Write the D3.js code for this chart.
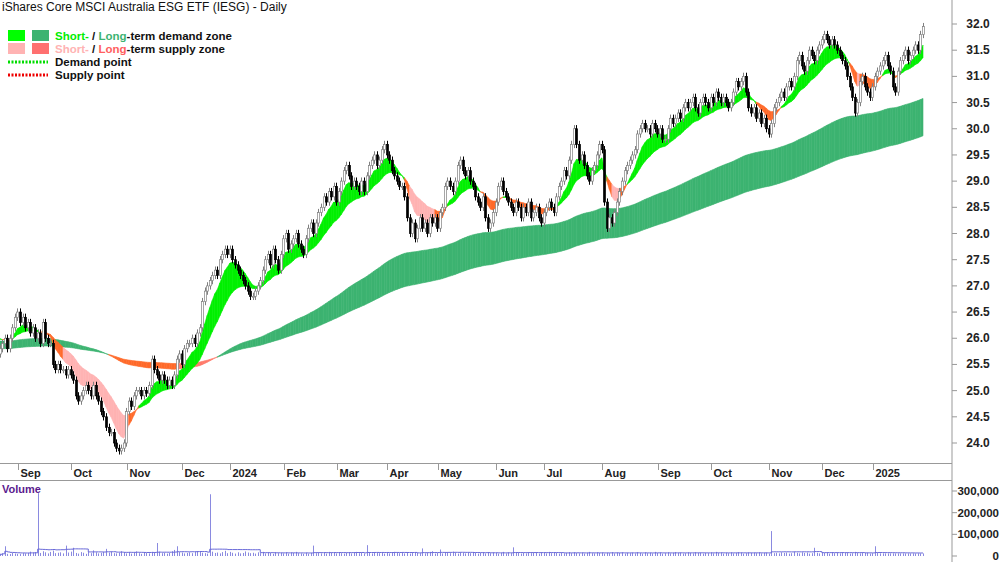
<!DOCTYPE html>
<html><head><meta charset="utf-8">
<script src="https://cdn.jsdelivr.net/npm/d3@7/dist/d3.min.js"></script>
<style>body{margin:0;background:#fff}svg{display:block;font-family:Arial,"Liberation Sans",sans-serif}</style>
</head><body><svg id="c" width="1000" height="562"></svg>
<script>
// ---- data ----
const startDate = "2023-08-22";
const holidays = ["2023-12-25","2023-12-26","2024-01-01","2024-01-26","2024-03-29","2024-04-01","2024-04-25","2024-06-10","2024-12-25","2024-12-26","2025-01-01"];
const closes = [
25.8,25.9,26.0,25.8,26.0, 26.2,26.4,26.5,26.3,26.4, 26.2,26.3,26.1,26.2,26.0, 26.1,25.9,26.3,26.0,25.9,
25.9,25.5,25.4,25.5,25.4, 25.4,25.3,25.4,25.3,25.2, 24.9,24.8,24.9,25.0,25.1, 25.0,24.9,25.1,24.9,24.8,
24.6,24.5,24.3,24.2,24.2, 24.0,23.9,23.85,23.9,24.0, 24.6,24.8,24.7,24.9,25.0, 25.0,24.9,25.0,24.95,25.1,
25.6,25.4,25.3,25.2,25.3, 25.2,25.1,25.2,25.1,25.3, 25.6,25.7,25.5,25.8,25.9, 25.9,26.0,25.9,26.1,26.2,
26.7,26.9,27.0,27.1,27.2, 27.3,27.2,27.5,27.6,27.7, 27.6,27.7,27.5,27.4,27.3, 27.2,27.1,27.0,26.9,26.8,
26.8,26.9,27.0,27.1,27.3,27.5, 27.6,27.4,27.7,27.5,27.3, 27.6,27.9,28.0,27.7,27.8, 27.9,28.0,27.8,27.7,27.6,
27.9,28.1,28.2,28.0,28.2, 28.4,28.5,28.7,28.6,28.8, 28.7,28.9,28.6,28.8,29.0, 29.2,29.3,29.1,28.9,29.0,
28.9,28.8,29.0,28.8,29.1, 29.3,29.4,29.5,29.3,29.4, 29.6,29.7,29.5,29.4,29.2, 29.1,29.0,28.9,28.9,28.7,
28.3,28.0,28.2,27.9,28.1, 28.3,28.1,28.2,28.0,28.3, 28.2,28.3,28.1,28.4,28.5, 28.9,29.0,28.9,28.8,29.0,
29.3,29.4,29.2,29.1,29.2,29.0, 28.9,28.7,28.6,28.5,28.7, 28.3,28.1,28.2,28.4,28.6, 28.9,29.0,28.8,28.7,28.6,
28.5,28.4,28.6,28.5,28.3, 28.5,28.4,28.6,28.3,28.4, 28.5,28.3,28.2,28.4,28.5, 28.6,28.5,28.4,28.7,28.9,
29.0,29.2,29.1,29.4,29.7, 30.0,29.7,29.4,29.5,29.3, 29.1,29.0,29.2,29.3,29.5, 29.7,29.6,28.6,28.1,28.3,
28.2,28.4,28.6,28.8,29.0, 29.2,29.3,29.4,29.5,29.6, 29.9,30.0,30.1,30.0,30.0,29.9, 30.1,30.0,29.9,30.0,29.8,
29.8,30.0,30.2,30.1,30.2, 30.3,30.2,30.4,30.5,30.4, 30.5,30.6,30.4,30.3,30.5, 30.6,30.5,30.4,30.6,30.5,
30.7,30.6,30.5,30.6,30.5, 30.4,30.5,30.7,30.9,30.8, 30.9,31.0,30.7,30.4,30.3, 30.4,30.2,30.3,30.1,30.2,
30.0,29.9,30.1,30.4,30.5,30.6, 30.7,30.6,30.8,30.9,30.8, 31.0,31.3,31.4,31.2,31.1, 31.3,31.5,31.4,31.3,31.5,
31.6,31.7,31.8,31.7,31.6, 31.7,31.6,31.5,31.4,31.3, 31.2,31.0,30.8,30.6,30.3, 30.5,30.9,31.0,30.8,30.7,
30.6,30.8,31.0,31.1,31.2,31.3, 31.4,31.2,31.1,30.8,30.7, 31.1,31.3,31.4,31.5,31.3, 31.4,31.5,31.6,31.5,31.8,
31.95];
const firstOpen = 25.7;
const volumesK = [
 8,12,45,10, 9, 14,11,10, 9,13, 12,14,20,16,18, 290,14,22,17,12, 19,25,13,15,17,
 12,48,16,20,38, 14,11,18,15,10, 21,13,26,17,12, 14,19,33,16,20, 13,12,15,22,17,
 12,18,11,16,21, 13,10,17,14,12, 19,15,60,20,13, 15,11,14,22,28, 45,18,16,12,14,
 17,13,19,22,22, 15,13,11,285,20, 14,16,12,18,24, 13,19,15,11,17, 12,14,21,16,13,
 15,11,17,13,19, 12,16,14,10,18, 13,15,12,17,11, 16,14,19,13,12, 10,15,11,14,48,
 13,17,12,15,11, 19,14,16,12,18, 13,11,15,17,12, 14,19,13,16,11, 50,15,12,18,14,
 13,17,11,16,12, 15,19,14,13,17, 12,16,11,15,18, 14,13,35,12,16, 19,22,11,14,30,
 12,16,18,13,20, 15,11,17,14,12, 16,13,19,15,11, 14,17,12,18,13, 16,15,11,14,19,
 12,17,13,40,14, 16,11,15,12,18, 13,17,14,11,16, 15,12,19,13,17, 14,11,16,12,15,
 18,13,17,14,12, 16,11,15,19,13, 12,17,14,16,11, 15,13,18,12,16, 14,17,11,15,13,
 16,12,18,14,11, 17,13,15,12,19, 14,16,11,13,17, 12,15,18,14,16, 11,13,17,15,12,
 18,14,16,11,15, 13,17,12,19,14, 16,11,15,13,17, 12,14,18,16,11, 13,17,14,15,13,
 17,12,14,16,11, 115,13,15,12,17, 14,16,11,13,19, 15,12,17,14,16, 11,13,38,15,12,
 17,14,16,11,18, 13,15,12,17,14, 16,11,13,19,15, 12,17,14,16,11, 13,45,16
];
const seed = {sf:26.05, ss:26.0, lf:25.95, ls:25.8};
const periods = {sf:8, ss:21, lf:125, ls:220};
const priceTicks = [24.0,24.5,25.0,25.5,26.0,26.5,27.0,27.5,28.0,28.5,29.0,29.5,30.0,30.5,31.0,31.5,32.0];
const volTicks = [0,100000,200000,300000];
const monthNames = ["Jan","Feb","Mar","Apr","May","Jun","Jul","Aug","Sep","Oct","Nov","Dec"];

// ---- derived ----
const dates=[]; {let d=new Date(startDate+"T00:00:00Z"); const hs=new Set(holidays);
 while(dates.length<closes.length){const wd=d.getUTCDay(); const s=d.toISOString().slice(0,10);
  if(wd!==0&&wd!==6&&!hs.has(s)) dates.push(new Date(d)); d=new Date(d.getTime()+86400000);} }
const bars = closes.map((c,i)=>{const o=i?closes[i-1]:firstOpen; return {i,o,c,h:Math.max(o,c)+0.07,l:Math.min(o,c)-0.07,v:(volumesK[i]||12)*1000};});
function ema(p,s){let e=s; return closes.map(c=>(e=e+(c-e)*2/(p+1)));}
const SF=ema(periods.sf,seed.sf), SS=ema(periods.ss,seed.ss), LF=ema(periods.lf,seed.lf), LS=ema(periods.ls,seed.ls);

// ---- scales ----
const svg=d3.select("#c");
const N=closes.length;
const x=d3.scaleLinear().domain([8,N-1]).range([20,923]);
const y=d3.scaleLinear().domain([24,32]).range([443,24]);
const yv=d3.scaleLinear().domain([0,300000]).range([556,491]);
const R=952;

svg.append("defs").append("clipPath").attr("id","pc").append("rect").attr("x",0).attr("y",0).attr("width",R).attr("height",463);
const g=svg.append("g").attr("clip-path","url(#pc)");

function band(A,B,upCol,colFn){
 for(let i=0;i<N-1;i++){
  const col=A[i]>=B[i]?upCol:colFn(i);
  const pts=[[x(i),y(A[i])],[x(i+1),y(A[i+1])],[x(i+1),y(B[i+1])],[x(i),y(B[i])]];
  g.append("path").attr("d","M"+pts.map(p=>p.join(",")).join("L")+"Z").attr("fill",col).attr("stroke",col).attr("stroke-width",0.6);
 }
}
band(LF,LS,"#3cb371",i=>LF[i]<LF[Math.max(0,i-1)]?"#ff6a2a":"#ff7a6a");
band(SF,SS,"#00f000",i=>(SS[i]-SF[i])>0.22?"#ffb3b3":"#ff6a2a");

// candles
bars.forEach(b=>{
 const up=b.c>=b.o; const cx=Math.round(x(b.i))+0.5;
 g.append("line").attr("x1",cx).attr("x2",cx).attr("y1",y(b.h)).attr("y2",y(b.l)).attr("stroke",up?"#808080":"#000").attr("stroke-width",1);
 const top=y(Math.max(b.o,b.c)), bot=y(Math.min(b.o,b.c));
 g.append("rect").attr("x",cx-1).attr("y",top).attr("width",2).attr("height",Math.max(1,bot-top))
  .attr("fill",up?"#fff":"#000").attr("stroke",up?"#808080":"#000").attr("stroke-width",0.7);
});

// axes / frame
const axCol="#999";
svg.append("line").attr("x1",R).attr("x2",R).attr("y1",0).attr("y2",562).attr("stroke",axCol);
svg.append("line").attr("x1",0).attr("x2",R).attr("y1",463.5).attr("y2",463.5).attr("stroke",axCol);
svg.append("line").attr("x1",0).attr("x2",R).attr("y1",480.5).attr("y2",480.5).attr("stroke",axCol);
priceTicks.forEach(t=>{
 svg.append("line").attr("x1",R).attr("x2",R+5).attr("y1",y(t)).attr("y2",y(t)).attr("stroke",axCol);
 svg.append("text").attr("x",978).attr("y",y(t)+4).attr("text-anchor","middle").attr("font-size",12).attr("font-weight","bold").attr("fill","#222").text(t.toFixed(1));
});
volTicks.forEach(t=>{
 svg.append("line").attr("x1",R).attr("x2",R+5).attr("y1",yv(t)).attr("y2",yv(t)).attr("stroke",axCol);
 svg.append("text").attr("x",999).attr("y",Math.min(yv(t)+4,560)).attr("text-anchor","end").attr("font-size",11.5).attr("font-weight","bold").attr("fill","#222").text(d3.format(",")(t));
});
dates.forEach((d,i)=>{
 if(i===0||d.getUTCMonth()===dates[i-1].getUTCMonth()) return;
 const xx=Math.round(x(i))-1.5;
 svg.append("line").attr("x1",xx).attr("x2",xx).attr("y1",463).attr("y2",470).attr("stroke",axCol);
 const m=d.getUTCMonth();
 svg.append("text").attr("x",xx+2).attr("y",477).attr("font-size",11).attr("font-weight","bold").attr("fill","#222")
  .text(m===0?String(d.getUTCFullYear()):monthNames[m]);
});

// volume
const vg=svg.append("g");
bars.forEach(b=>{ const cx=Math.round(x(b.i))+0.5;
 vg.append("line").attr("x1",cx).attr("x2",cx).attr("y1",yv(0)).attr("y2",yv(b.v)).attr("stroke","#8a8ae0").attr("stroke-width",1);});
const vma=bars.map((b,i)=>{const s=bars.slice(Math.max(0,i-19),i+1); return d3.mean(s,d=>d.v);});
vg.append("path").attr("d",d3.line().x((d,i)=>x(i)).y(d=>yv(d)).curve(d3.curveStepAfter)(vma)).attr("fill","none").attr("stroke","#6a6ad8").attr("stroke-width",1);
svg.append("text").attr("x",2).attr("y",493).attr("font-size",11).attr("font-weight","bold").attr("fill","#5b1a8e").text("Volume");

// title + legend
svg.append("text").attr("x",2).attr("y",11).attr("font-size",12).attr("fill","#111").text("iShares Core MSCI Australia ESG ETF (IESG) - Daily");
const L=svg.append("g").attr("font-size",11.5).attr("font-weight","bold");
[[30,"#00ff00","#3cb371"],[43,"#ffb3b3","#ff7070"]].forEach(([yy,a,b])=>{
 L.append("rect").attr("x",8).attr("y",yy).attr("width",17).attr("height",11).attr("fill",a);
 L.append("rect").attr("x",32).attr("y",yy).attr("width",17).attr("height",11).attr("fill",b);
});
let t1=L.append("text").attr("x",55).attr("y",40);
t1.append("tspan").attr("fill","#00ee00").text("Short-");t1.append("tspan").attr("fill","#111").text(" / ");
t1.append("tspan").attr("fill","#3cb371").text("Long");t1.append("tspan").attr("fill","#111").text("-term demand zone");
let t2=L.append("text").attr("x",55).attr("y",53);
t2.append("tspan").attr("fill","#ffb3b3").text("Short-");t2.append("tspan").attr("fill","#111").text(" / ");
t2.append("tspan").attr("fill","#ff6060").text("Long");t2.append("tspan").attr("fill","#111").text("-term supply zone");
L.append("line").attr("x1",8).attr("x2",48).attr("y1",62).attr("y2",62).attr("stroke","#00dd00").attr("stroke-width",3).attr("stroke-dasharray","2,1.5");
L.append("line").attr("x1",8).attr("x2",48).attr("y1",75).attr("y2",75).attr("stroke","#ee0000").attr("stroke-width",3).attr("stroke-dasharray","2,1.5");
L.append("text").attr("x",55).attr("y",66).attr("fill","#111").text("Demand point");
L.append("text").attr("x",55).attr("y",79).attr("fill","#111").text("Supply point");
</script></body></html>
